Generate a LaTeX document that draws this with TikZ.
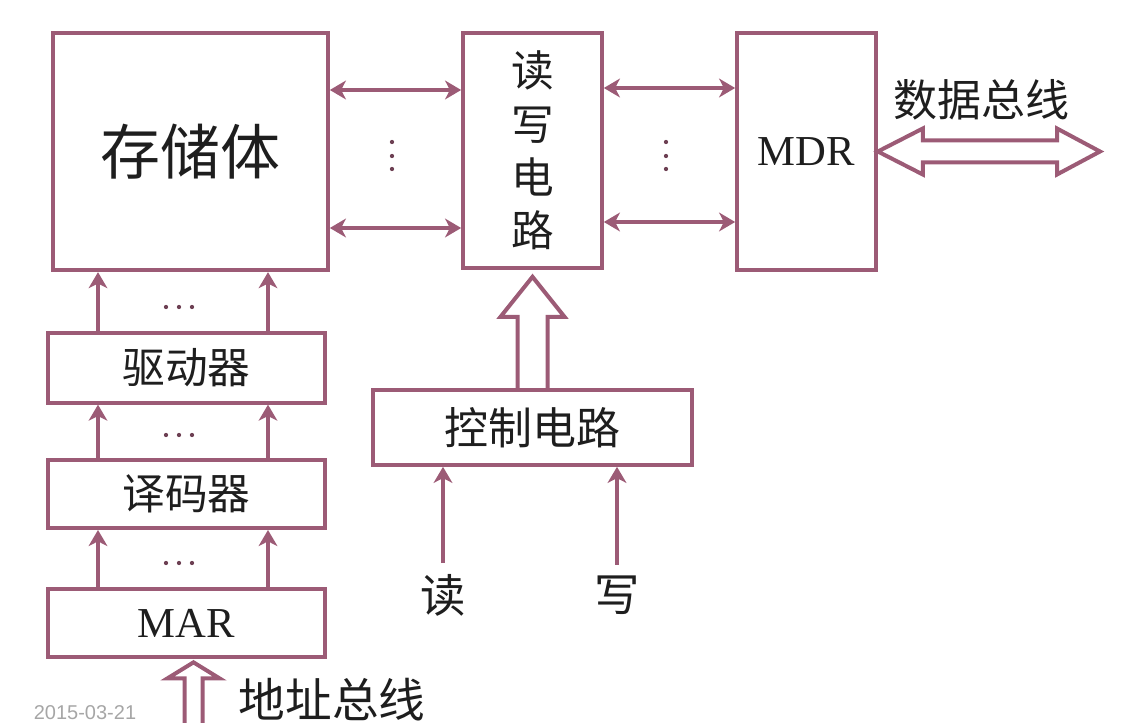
\documentclass[tikz,border=0pt]{standalone}
\usepackage{fontspec}
\setmainfont{Liberation Serif}
\newfontfamily\cjk{Noto Sans CJK SC}
\newfontfamily\datefont{Liberation Sans}
\usetikzlibrary{positioning,arrows.meta,calc}
\definecolor{mauve}{HTML}{9C5B76}
\definecolor{ink}{HTML}{1E1E1E}

\tikzset{
  blk/.style={draw=mauve, line width=3pt, inner sep=0pt, align=center, text=ink},
  zh/.style={font=\cjk\fontsize{#1}{#1}\selectfont, text=ink},
  sig/.style={draw=mauve, line width=3pt, -{Stealth[length=12pt,width=14pt,inset=3.5pt]}},
  both/.style={draw=mauve, line width=3pt, {Stealth[length=12pt,width=14pt,inset=3.5pt]}-{Stealth[length=12pt,width=14pt,inset=3.5pt]}},
  hollow/.style={draw=mauve, line width=3pt, line join=miter},
  dot/.style={fill=mauve!70!black}
}

\begin{document}
\begin{tikzpicture}[x=0.75pt, y=-0.75pt]
\useasboundingbox (0,0) rectangle (1129,723);

% main row
\node[blk, zh=45, minimum width=206pt, minimum height=178pt] (store) at (190.5,151.5) {存储体};
\node[blk, font=\cjk\fontsize{32}{40}\selectfont, minimum width=104pt, minimum height=176pt] (rw) at (532.5,150.5) {读\\写\\电\\路};
\node[blk, font=\fontsize{32}{38}\selectfont, minimum width=104pt, minimum height=178pt] (mdr) at (806.5,151.5) {MDR};

% address path
\node[blk, zh=32, minimum width=208pt, minimum height=52pt] (drv) at (186.5,368) {驱动器};
\node[blk, zh=32, minimum width=208pt, minimum height=51pt, below=40pt of drv] (dec) {译码器};
\node[blk, font=\fontsize{32}{38}\selectfont, minimum width=208pt, minimum height=51pt, below=43pt of dec] (mar) {MAR};

% control
\node[blk, zh=33, minimum width=239pt, minimum height=56pt] (ctrl) at (532.5,427.5) {控制电路};

\draw[both] (store.east |- 0,90) -- (rw.west |- 0,90);
\draw[both] (store.east |- 0,228) -- (rw.west |- 0,228);
\draw[both] (rw.east |- 0,88) -- (mdr.west |- 0,88);
\draw[both] (rw.east |- 0,222) -- (mdr.west |- 0,222);

\foreach \x in {98,268} {
  \draw[sig] (drv.north -| \x,0) -- (store.south -| \x,0);
  \draw[sig] (dec.north -| \x,0) -- (drv.south -| \x,0);
  \draw[sig] (mar.north -| \x,0) -- (dec.south -| \x,0);
}

% dots
\foreach \y in {307,435,563}
  \foreach \x in {166,179,192}
    \fill[dot] (\x,\y) circle (1.6pt);
\foreach \x in {392,666}
  \foreach \y in {142,156,169}
    \fill[dot] (\x,\y) circle (1.6pt);

% data bus
\coordinate (dbus) at (1100,151.5);
\draw[hollow] (mdr.east) -- ++(45,-23) -- ++(0,12) -- ($(dbus)+(-43,-11)$) -- ++(0,-12) -- (dbus)
  -- ++(-43,23) -- ++(0,-12) -- ($(mdr.east)+(45,11)$) -- ++(0,12) -- cycle;
\node[zh=33] (dbl) at (981,100) {数据总线};

% control to read/write circuit
\coordinate (ctip) at ($(rw.south)+(0,7)$);
\draw[hollow] ($(ctrl.north)+(15,2)$) -- ($(ctip)+(15,40)$) -- ++(17,0) -- (ctip)
  -- ++(-32,40) -- ++(17,0) -- ($(ctrl.north)+(-15,2)$);

% address bus
\coordinate (atip) at ($(mar.south)+(7,3)$);
\coordinate (abase) at ($(atip)+(0,90)$);
\draw[hollow] ($(abase)+(9,0)$) -- ($(atip)+(9,16)$) -- ++(17,0) -- (atip)
  -- ++(-26,16) -- ++(17,0) -- ($(abase)+(-9,0)$);
\node[zh=35] (abl) at (332,700) {地址总线};

% read / write
\node[zh=34, inner sep=8pt] (rd) at (443,595) {读};
\node[zh=34, inner sep=8pt] (wr) at (617,595) {写};
\draw[sig] (rd.north) -- (rd.north |- ctrl.south);
\draw[sig] (wr.north) -- (wr.north |- ctrl.south);

\node[font=\datefont\fontsize{15}{17}\selectfont, text=gray!70] (date) at (85,713) {2015-03-21};
\end{tikzpicture}
\end{document}
